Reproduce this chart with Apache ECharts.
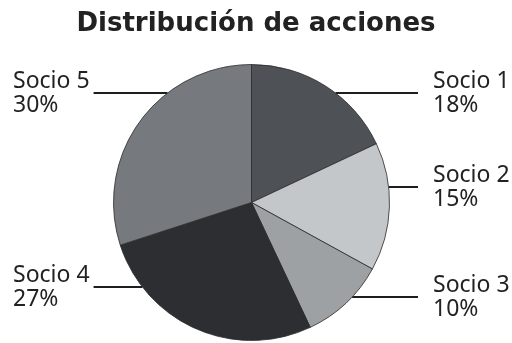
<!DOCTYPE html>
<html>
<head>
<meta charset="utf-8">
<script src="https://cdn.jsdelivr.net/npm/echarts@6/dist/echarts.min.js"></script>
<style>html,body{margin:0;padding:0;background:#fff;}#c{width:512px;height:343px;}</style>
</head>
<body>
<div id="c"></div>
<script>
const title = 'Distribución de acciones';
const categories = ['Socio 1', 'Socio 2', 'Socio 3', 'Socio 4', 'Socio 5'];
const values = [18, 15, 10, 27, 30];
const colors = ['#4e5155', '#c4c7c9', '#9da1a4', '#2d2e32', '#76797d'];

// layout (positions of the label blocks)
const CX = 251.5, CY = 202.5, R = 138;
const labelSide = ['right', 'right', 'right', 'left', 'left'];
const labelCenterY = [93, 187, 297, 287, 93];
const RIGHT_X = 433, LEFT_X = 13;

const chart = echarts.init(document.getElementById('c'), null, {renderer: 'canvas'});
chart.setOption({
  animation: false,
  backgroundColor: '#ffffff',
  title: {
    text: title,
    left: 'center',
    top: 6,
    textStyle: {fontFamily: 'DejaVu Sans', fontWeight: 'bold', fontSize: 26, color: '#222222'}
  },
  series: [{
    type: 'pie',
    center: [CX, CY],
    radius: R,
    startAngle: 90,
    clockwise: true,
    data: categories.map((c, i) => ({name: c, value: values[i], itemStyle: {color: colors[i]}})),
    itemStyle: {borderColor: '#2a2a2a', borderWidth: 0.8},
    label: {
      show: true,
      position: 'outside',
      formatter: p => p.name + '\n' + p.value + '%',
      fontFamily: 'Noto Sans',
      fontSize: 23,
      lineHeight: 24,
      color: '#222222',
      align: 'left'
    },
    labelLine: {show: true, length: 0, length2: 0, lineStyle: {color: '#1e1e1e', width: 2}},
    labelLayout: function (params) {
      const i = params.dataIndex;
      const y = labelCenterY[i];
      const dy = y - CY;
      const dx = Math.sqrt(Math.max(0, R * R - dy * dy));
      const w = params.labelRect.width;
      if (labelSide[i] === 'right') {
        const edge = CX + dx;
        return {
          x: RIGHT_X, y: y, align: 'left', verticalAlign: 'middle',
          labelLinePoints: [[edge, y], [edge, y], [RIGHT_X - 15, y]]
        };
      } else {
        const edge = CX - dx;
        return {
          x: LEFT_X, y: y, align: 'left', verticalAlign: 'middle',
          labelLinePoints: [[LEFT_X + w + 4, y], [edge, y], [edge, y]]
        };
      }
    },
    emphasis: {disabled: true}
  }]
});
</script>
</body>
</html>
